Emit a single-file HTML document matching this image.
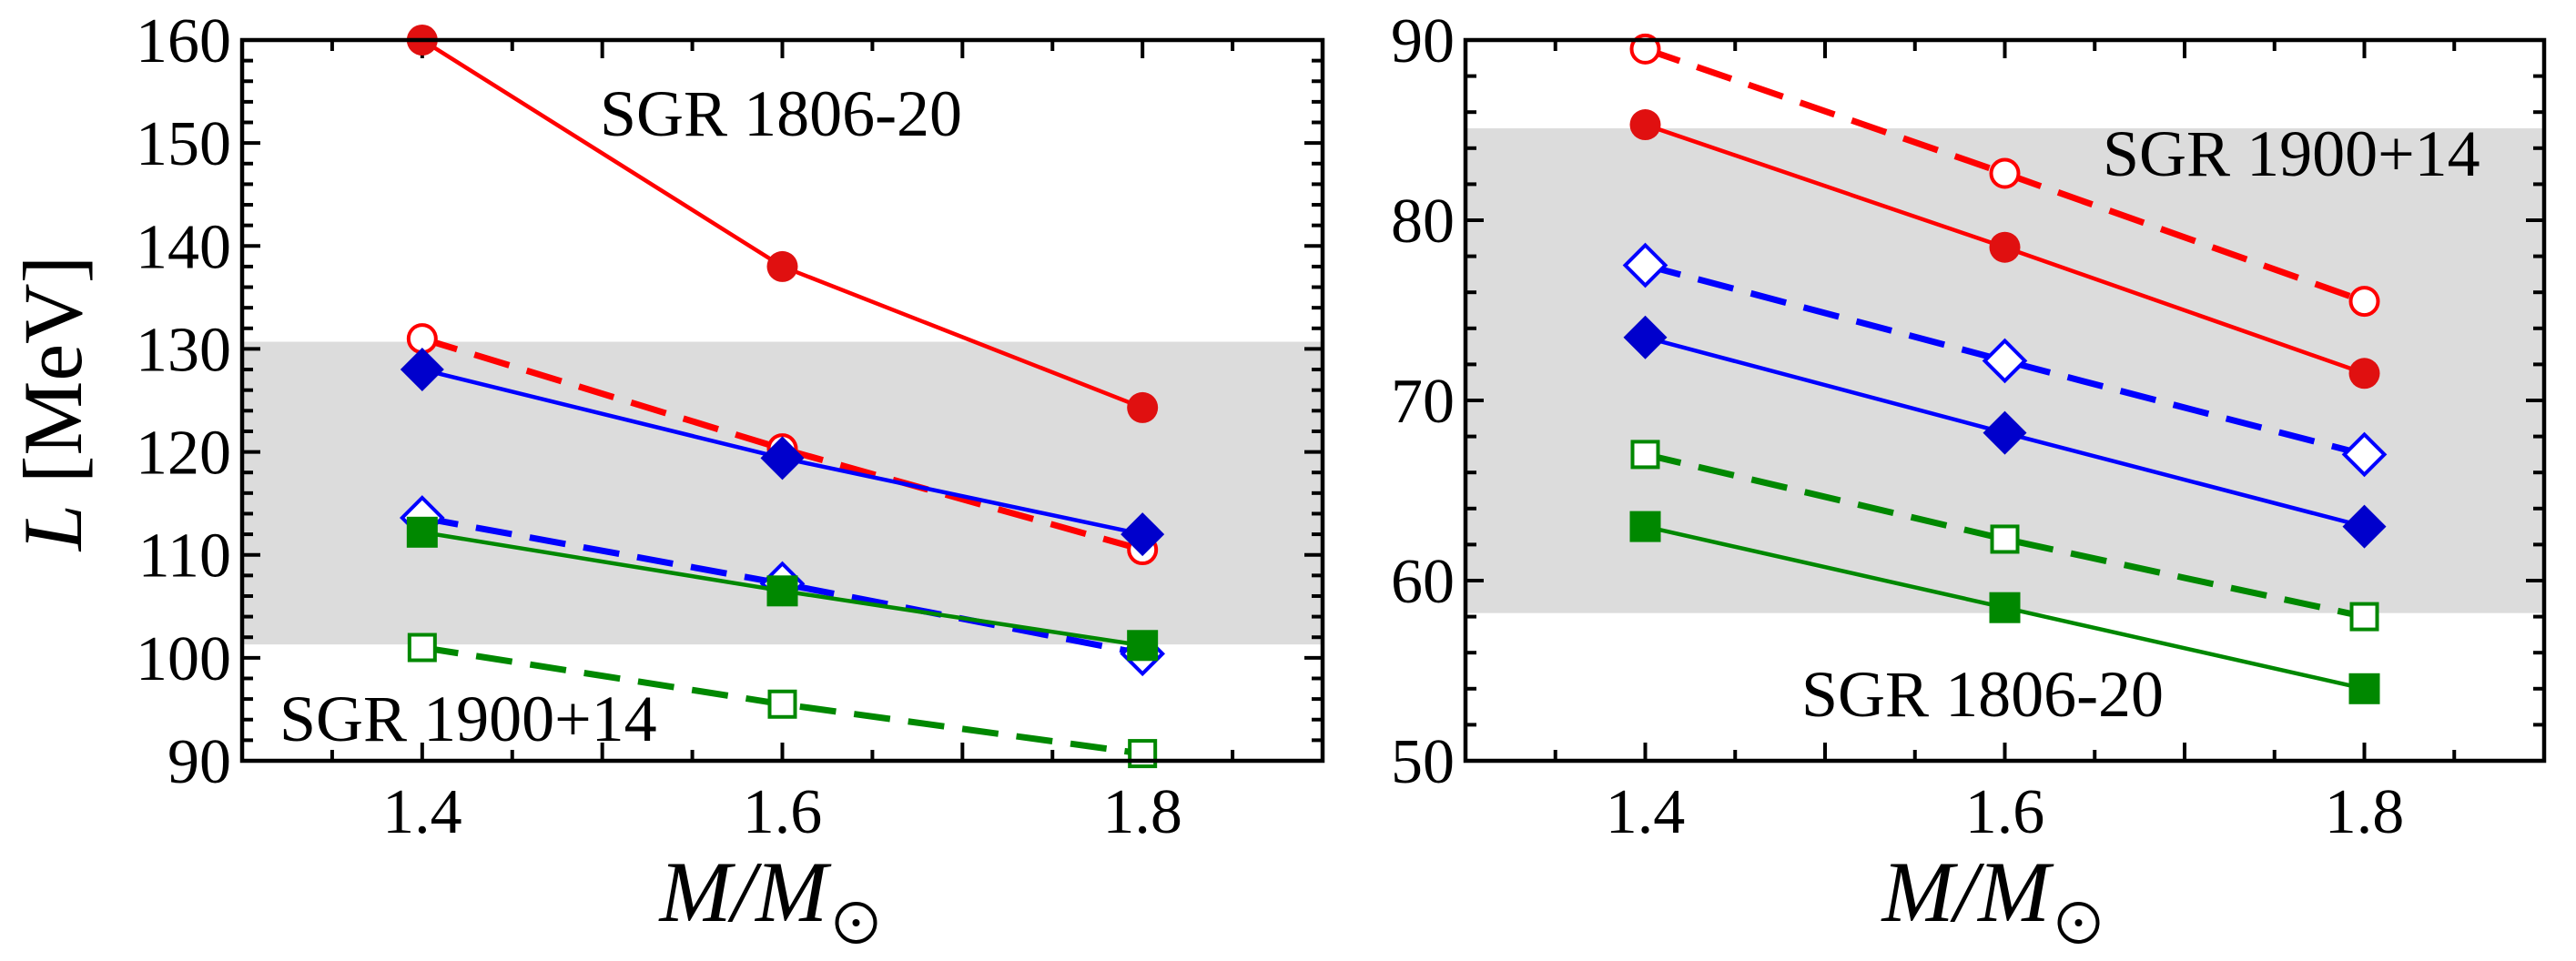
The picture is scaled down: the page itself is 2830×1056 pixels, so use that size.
<!DOCTYPE html>
<html><head><meta charset="utf-8"><style>
html,body{margin:0;padding:0;background:#fff;}
svg{display:block;font-family:"Liberation Serif",serif;}
</style></head><body>
<svg id="chart" width="2830" height="1056" viewBox="0 0 2830 1056" xmlns="http://www.w3.org/2000/svg"></svg>
<script>
const masses = [1.4, 1.6, 1.8];
const xTicks = [1.4, 1.6, 1.8];
const leftYTicks = [90,100,110,120,130,140,150,160];
const rightYTicks = [50,60,70,80,90];
const leftBand = [101.3, 130.7];
const rightBand = [58.2, 85.1];
const leftRedFilled = [160, 138, 124.3];
const leftRedOpen = [131, 120.3, 110.5];
const leftBlueFilled = [128, 119.4, 112];
const leftBlueOpen = [113.6, 107.2, 100.4];
const leftGreenFilled = [112.2, 106.5, 101.2];
const leftGreenOpen = [101, 95.5, 90.7];
const rightRedOpen = [89.5, 82.6, 75.5];
const rightRedFilled = [85.3, 78.5, 71.5];
const rightBlueOpen = [77.5, 72.2, 67];
const rightBlueFilled = [73.5, 68.2, 63];
const rightGreenOpen = [67, 62.3, 58];
const rightGreenFilled = [63, 58.5, 54];

const NS = "http://www.w3.org/2000/svg";
const svg = document.getElementById('chart');
function mk(tag, attrs, parent){const e=document.createElementNS(NS,tag);for(const k in attrs)e.setAttribute(k,attrs[k]);(parent||svg).appendChild(e);return e;}

function panel(p){
  const g = mk('g',{});
  
  
  const X = v => p.x0 + (v-1.3)/(0.6)*(p.x1-p.x0);
  const Y = v => p.y1 - (v-p.ymin)/(p.ymax-p.ymin)*(p.y1-p.y0);
  const band = mk('rect',{x:p.x0,y:Y(p.band[1]),width:p.x1-p.x0,height:Y(p.band[0])-Y(p.band[1]),fill:'#dcdcdc'},g);
  
  
  // ticks
  for(let i=0;i<=12;i++){
    const v=1.3+i*0.05, x=X(v), L=(i%2==0)?20:12;
    mk('line',{x1:x,y1:p.y1,x2:x,y2:p.y1-L,stroke:'#000','stroke-width':4},g);
    mk('line',{x1:x,y1:p.y0,x2:x,y2:p.y0+L,stroke:'#000','stroke-width':4},g);
  }
  for(let v=p.ymin; v<=p.ymax+0.001; v+=2){
    const y=Y(v), L=(Math.round(v)%10==0)?20:12;
    mk('line',{x1:p.x0,y1:y,x2:p.x0+L,y2:y,stroke:'#000','stroke-width':4},g);
    mk('line',{x1:p.x1,y1:y,x2:p.x1-L,y2:y,stroke:'#000','stroke-width':4},g);
  }
  // series
  p.series.forEach(s=>{
    const pts = masses.map((m,i)=>X(m)+','+Y(s.d[i])).join(' ');
    const pl = mk('polyline',{points:pts,fill:'none',stroke:s.c,'stroke-width':s.open?7:4.5,'stroke-dasharray':s.open?'40 20':'none'},g);
    
    
    masses.forEach((m,i)=>{
      const cx=X(m), cy=Y(s.d[i]); let e;
      const fill = s.open?'#fff':s.f;
      const sw = s.open?4:0;
      if(s.m=='c') e=mk('circle',{cx:cx,cy:cy,r:s.open?15:17,fill:fill,stroke:s.c,'stroke-width':sw},g);
      else if(s.m=='d'){const r=s.open?22:24;e=mk('polygon',{points:`${cx},${cy-r} ${cx+r},${cy} ${cx},${cy+r} ${cx-r},${cy}`,fill:fill,stroke:s.c,'stroke-width':sw},g);}
      else {const r=s.open?14:17;e=mk('rect',{x:cx-r,y:cy-r,width:2*r,height:2*r,fill:fill,stroke:s.c,'stroke-width':sw},g);}
      
      
    });
  });
  const frame = mk('rect',{x:p.x0,y:p.y0,width:p.x1-p.x0,height:p.y1-p.y0,fill:'none',stroke:'#000','stroke-width':4.5},g);
  
  
  xTicks.forEach(v=>{
    const t=mk('text',{x:X(v),y:915,'font-size':70,'text-anchor':'middle'},g); t.textContent=v.toFixed(1);
    
    
  });
  p.yt.forEach(v=>{
    const t=mk('text',{x:p.x0-12,y:Y(v)+24,'font-size':70,'text-anchor':'end'},g); t.textContent=v;
    
    
  });
  p.ann.forEach(a=>{
    const t=mk('text',{x:a[1],y:a[2],'font-size':72},g); t.textContent=a[0];
    
    
  });
  // x title
  const cx = p.x0 + (p.x1-p.x0)/2 - 135;
  const t=mk('text',{x:cx,y:1012,'font-size':95,'font-style':'italic'},g); t.textContent='M/M';
  
  
  const sunx = cx+216;
  const sc = mk('circle',{cx:sunx,cy:1014,r:21,fill:'none',stroke:'#000','stroke-width':4},g);
  
  
  mk('circle',{cx:sunx,cy:1014,r:4,fill:'#000'},g);
}

const R='#ff0000', B='#0000ff', Gc='#008800';
panel({name:'left-panel',x0:266,x1:1453,y0:44,y1:836,ymin:90,ymax:160,band:leftBand,yt:leftYTicks,
  series:[
    {n:'red-filled',d:leftRedFilled,c:R,f:'#e01010',m:'c',open:false},
    {n:'red-open',d:leftRedOpen,c:R,m:'c',open:true},
    {n:'blue-filled',d:leftBlueFilled,c:B,f:'#0000cc',m:'d',open:false},
    {n:'blue-open',d:leftBlueOpen,c:B,m:'d',open:true},
    {n:'green-open',d:leftGreenOpen,c:Gc,m:'s',open:true},
    {n:'green-filled',d:leftGreenFilled,c:Gc,f:'#008800',m:'s',open:false}],
  ann:[['SGR 1806-20',659,149],['SGR 1900+14',307,814]]});
panel({name:'right-panel',x0:1610,x1:2795,y0:44,y1:836,ymin:50,ymax:90,band:rightBand,yt:rightYTicks,
  series:[
    {n:'red-open',d:rightRedOpen,c:R,m:'c',open:true},
    {n:'red-filled',d:rightRedFilled,c:R,f:'#e01010',m:'c',open:false},
    {n:'blue-open',d:rightBlueOpen,c:B,m:'d',open:true},
    {n:'blue-filled',d:rightBlueFilled,c:B,f:'#0000cc',m:'d',open:false},
    {n:'green-open',d:rightGreenOpen,c:Gc,m:'s',open:true},
    {n:'green-filled',d:rightGreenFilled,c:Gc,f:'#008800',m:'s',open:false}],
  ann:[['SGR 1900+14',2310,193],['SGR 1806-20',1979,787]]});

const yl = mk('text',{x:0,y:0,'font-size':92,'text-anchor':'middle',transform:'translate(89,443) rotate(-90)'});


const ti = mk('tspan',{'font-style':'italic'},yl); ti.textContent='L';
const tr = mk('tspan',{},yl); tr.textContent=' [MeV]';
</script>
</body></html>
